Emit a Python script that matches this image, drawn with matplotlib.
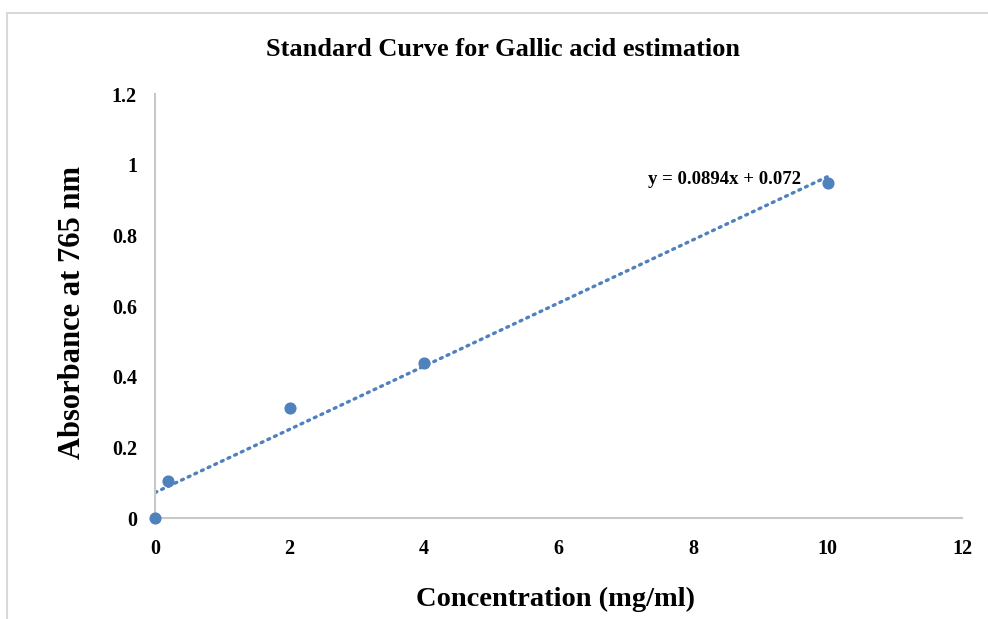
import numpy as np
import matplotlib.pyplot as plt
from matplotlib.lines import Line2D

# data
conc = [0, 0.2, 2, 4, 10]
absorb = [0.0, 0.105, 0.311, 0.44, 0.947]
slope, intercept = 0.0894, 0.072
x_ticks = [0, 2, 4, 6, 8, 10, 12]
y_ticks = [0, 0.2, 0.4, 0.6, 0.8, 1.0, 1.2]
y_tick_labels = ["0", "0.2", "0.4", "0.6", "0.8", "1", "1.2"]

plt.rcParams["font.family"] = ["Liberation Serif", "DejaVu Serif"]
plt.rcParams["font.weight"] = "bold"

blue = "#4f81bd"
grey = "#c8c8c8"

fig = plt.figure(figsize=(9.88, 6.19), dpi=100)
ax = fig.add_axes([155 / 988, 101 / 619, 807 / 988, 424 / 619])

# chart frame (left and top edges visible)
fig.add_artist(Line2D([7 / 988, 7 / 988], [0, 1 - 13 / 619],
                      transform=fig.transFigure, color="#d9d9d9", lw=1.5))
fig.add_artist(Line2D([7 / 988, 1], [1 - 13 / 619, 1 - 13 / 619],
                      transform=fig.transFigure, color="#d9d9d9", lw=1.5))

xfit = np.array([min(conc), max(conc)])
ax.plot(xfit, slope * xfit + intercept, color=blue, lw=2.4,
        linestyle=(0, (0.6, 1.6)), dash_capstyle="round", zorder=2)
ax.scatter(conc, absorb, s=60, color=blue, zorder=3, clip_on=False)

ax.set_xlim(0, 12)
ax.set_ylim(0, 1.2)
ax.set_xticks(x_ticks)
ax.set_yticks(y_ticks)
ax.set_yticklabels(y_tick_labels)
ax.tick_params(length=0, labelsize=14.5, pad=13)
ax.tick_params(axis="x", pad=15)
for lab in ax.get_xticklabels() + ax.get_yticklabels():
    lab.set_fontweight("bold")

for side in ["top", "right"]:
    ax.spines[side].set_visible(False)
for side in ["left", "bottom"]:
    ax.spines[side].set_color(grey)
    ax.spines[side].set_linewidth(1.5)

ax.text(9.6, 0.957, "y = 0.0894x + 0.072", fontsize=13.5, fontweight="bold",
        ha="right", va="center")

fig.text(503 / 988, 1 - 50 / 619, "Standard Curve for Gallic acid estimation",
         fontsize=19, fontweight="bold", ha="center", va="center")
fig.text(555 / 988, 1 - 599 / 619, "Concentration (mg/ml)",
         fontsize=20.5, fontweight="bold", ha="center", va="center")
fig.text(73 / 988, 1 - 312 / 619, "Absorbance at 765 nm",
         fontsize=22, fontweight="bold", ha="center", va="center", rotation=90)

fig.savefig("out.png", dpi=100)
